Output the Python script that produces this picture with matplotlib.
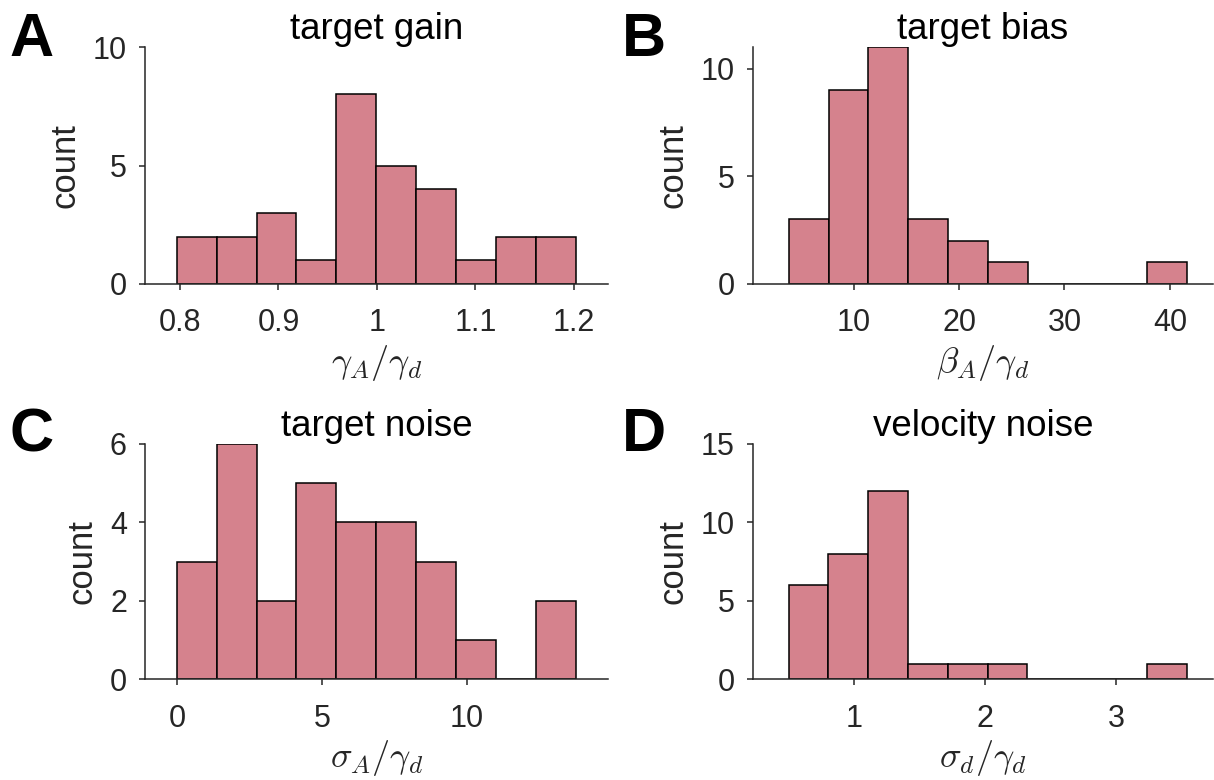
import numpy as np
import matplotlib.pyplot as plt

# histogram data (bin edges + counts)
gain_edges = [0.797, 0.8375, 0.8778, 0.9183, 0.9589, 0.9995, 1.0397, 1.0803, 1.1205, 1.1611, 1.2017]
gain_counts = [2, 2, 3, 1, 8, 5, 4, 1, 2, 2]

bias_edges = [3.83, 7.61, 11.39, 15.16, 18.94, 22.72, 26.49, 30.27, 34.05, 37.82, 41.60]
bias_counts = [3, 9, 11, 3, 2, 1, 0, 0, 0, 1]

tnoise_edges = [0, 1.376, 2.751, 4.127, 5.503, 6.879, 8.254, 9.630, 11.006, 12.381, 13.757]
tnoise_counts = [3, 6, 2, 5, 4, 4, 3, 1, 0, 2]

vnoise_edges = [0.504, 0.807, 1.110, 1.414, 1.717, 2.020, 2.323, 2.626, 2.930, 3.233, 3.536]
vnoise_counts = [6, 8, 12, 1, 1, 1, 0, 0, 0, 1]

titles = ['target gain', 'target bias', 'target noise', 'velocity noise']
xlabels = [r'$\gamma_A/\gamma_d$', r'$\beta_A/\gamma_d$', r'$\sigma_A/\gamma_d$', r'$\sigma_d/\gamma_d$']
letters = ['A', 'B', 'C', 'D']

plt.rcParams['font.family'] = ['Liberation Sans', 'DejaVu Sans']
plt.rcParams['mathtext.fontset'] = 'cm'

bar_color = '#d5828d'
axis_color = '#262626'

fig = plt.figure(figsize=(12.14, 7.8), dpi=100)

# [left, bottom, width, height] in figure fractions
positions = [
    [0.1194, 0.6359, 0.3814, 0.3038],
    [0.6203, 0.6359, 0.3790, 0.3038],
    [0.1194, 0.1291, 0.3814, 0.3017],
    [0.6203, 0.1291, 0.3790, 0.3017],
]
edges_all = [gain_edges, bias_edges, tnoise_edges, vnoise_edges]
counts_all = [gain_counts, bias_counts, tnoise_counts, vnoise_counts]
xlims = [(0.7645, 1.2345), (0.44, 44.11), (-1.10, 14.87), (0.2325, 3.739)]
ylims = [(0, 10), (0, 11), (0, 6), (0, 15)]
xticks = [[0.8, 0.9, 1.0, 1.1, 1.2], [10, 20, 30, 40], [0, 5, 10], [1, 2, 3]]
xticklabels = [['0.8', '0.9', '1', '1.1', '1.2'], ['10', '20', '30', '40'], ['0', '5', '10'], ['1', '2', '3']]
yticks = [[0, 5, 10], [0, 5, 10], [0, 2, 4, 6], [0, 5, 10, 15]]
letter_pos = [(0.008, 0.985), (0.512, 0.985), (0.008, 0.478), (0.512, 0.478)]

for i in range(4):
    ax = fig.add_axes(positions[i])
    e = np.array(edges_all[i])
    ax.bar(e[:-1], counts_all[i], width=np.diff(e), align='edge',
           color=bar_color, edgecolor='black', linewidth=1.1, zorder=2)
    ax.set_xlim(*xlims[i])
    ax.set_ylim(*ylims[i])
    ax.set_xticks(xticks[i])
    ax.set_xticklabels(xticklabels[i])
    ax.set_yticks(yticks[i])
    for s in ['top', 'right']:
        ax.spines[s].set_visible(False)
    for s in ['left', 'bottom']:
        ax.spines[s].set_color(axis_color)
        ax.spines[s].set_linewidth(1.1)
    ax.tick_params(direction='out', length=4, width=1.1, colors=axis_color,
                   labelsize=22)
    ax.tick_params(axis='x', pad=13.5)
    ax.tick_params(axis='y', pad=9)
    ax.set_title(titles[i], fontsize=26.5, color='black', pad=6)
    ax.set_xlabel(xlabels[i], fontsize=26, color=axis_color, labelpad=3.5)
    ax.set_ylabel('count', fontsize=25, color=axis_color, labelpad=8)
    fig.text(letter_pos[i][0], letter_pos[i][1], letters[i], fontsize=44,
             fontweight='bold', va='top', ha='left')

fig.savefig('out.png', dpi=100)
